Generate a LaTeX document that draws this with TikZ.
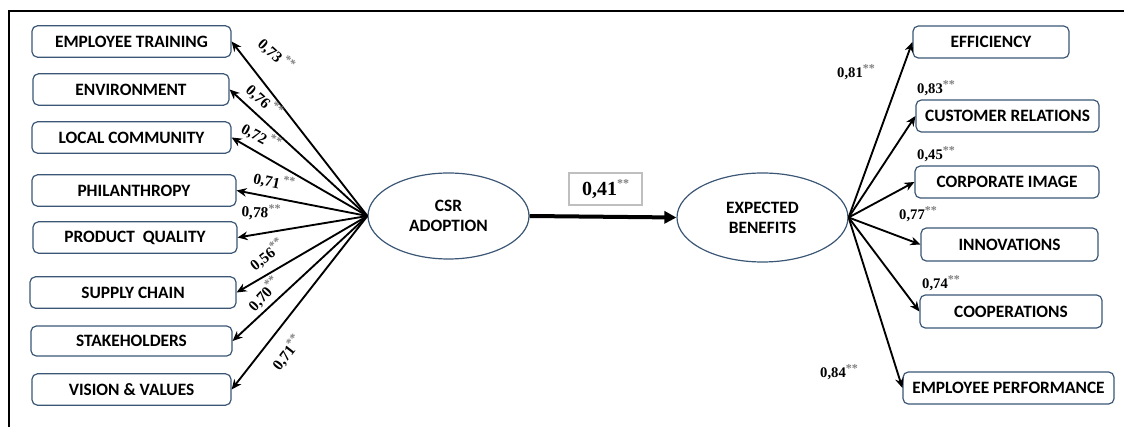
\documentclass[tikz,border=0pt]{standalone}
\usepackage{fontspec}
\setmainfont{Liberation Serif}
\newfontfamily\boxfont{Carlito}
\usetikzlibrary{shapes.geometric,arrows.meta}
\definecolor{edgeblue}{HTML}{3B5775}
\definecolor{lblgray}{HTML}{BFBFBF}
\newcommand\sig{\raisebox{0.38em}{\fontsize{9pt}{9pt}\selectfont\color{gray}**}}
\tikzset{
  box/.style={draw=edgeblue, line width=0.9pt, rounded corners=4pt, inner sep=0pt,
    minimum height=23.5pt, font=\boxfont\bfseries\fontsize{13pt}{15pt}\selectfont},
  lat/.style={draw=edgeblue, line width=0.9pt, ellipse, inner sep=0pt, align=center,
    font=\boxfont\bfseries\fontsize{13pt}{15pt}\selectfont},
  lbl/.style={inner sep=0pt, font=\bfseries\fontsize{11pt}{13pt}\selectfont},
  llbl/.style={inner sep=0pt, font=\bfseries\fontsize{11.5pt}{13pt}\selectfont},
  path/.style={line width=1.4pt, -{Stealth[length=7.5pt,width=6.5pt]}},
  frame/.style={line width=1.5pt}
}
\begin{document}
\begin{tikzpicture}[x=0.75pt,y=-0.75pt]
\useasboundingbox (0,0) rectangle (1124,427);
\draw[frame] (9,427) -- (9,11) -- (1124,11);
% left boxes
\node[box, minimum width=149.25pt] (et) at (131.5,41.5) {EMPLOYEE TRAINING};
\node[box, minimum width=147pt] (env) at (131,89.5) {ENVIRONMENT};
\node[box, minimum width=149.25pt] (lc) at (131.5,137.5) {LOCAL COMMUNITY};
\node[box, minimum width=153pt] (ph) at (134,190.5) {PHILANTHROPY};
\node[box, minimum width=153pt] (pq) at (135,237.5) {PRODUCT\ \ QUALITY};
\node[box, minimum width=154.5pt] (sc) at (133,292.5) {SUPPLY CHAIN};
\node[box, minimum width=150.75pt, minimum height=22.5pt] (st) at (131.5,341) {STAKEHOLDERS};
\node[box, minimum width=149.25pt] (vv) at (131.5,389.5) {VISION \& VALUES};
% latent variables
\node[lat, minimum width=120.75pt, minimum height=64.5pt] (csr) at (448.5,216) {CSR\\ADOPTION};
\node[lat, minimum width=128.25pt, minimum height=66.75pt] (eb) at (762.5,217.5) {EXPECTED\\BENEFITS};
% right boxes
\node[box, minimum width=117pt, minimum height=24pt] (eff) at (991,42) {EFFICIENCY};
\node[box, minimum width=137.25pt, minimum height=24pt] (cr) at (1007.5,116) {CUSTOMER RELATIONS};
\node[box, minimum width=138pt, minimum height=24pt] (ci) at (1007,182) {CORPORATE IMAGE};
\node[box, minimum width=132.75pt, minimum height=24.75pt] (inn) at (1009.5,244.5) {INNOVATIONS};
\node[box, minimum width=136.5pt, minimum height=24.75pt] (coop) at (1011,311.5) {COOPERATIONS};
\node[box, minimum width=158.25pt, minimum height=24pt] (ep) at (1008.5,388) {EMPLOYEE PERFORMANCE};
% left arrows
\foreach \t in {et,env,lc,ph,pq,sc,st,vv}
  \draw[path] (csr.west) -- (\t.east);
% right arrows
\foreach \t in {eff,cr,ci,inn,coop,ep}
  \draw[path] (eb.east) -- (\t.west);
% structural path
\draw[line width=3pt, -{Triangle[length=9pt,width=9pt]}] (csr.east) -- (eb.west);
\node[draw=lblgray, line width=0.8pt, inner sep=0pt, minimum width=54.75pt, minimum height=24pt,
  font=\bfseries\fontsize{15pt}{17pt}\selectfont] (b41) at (605.5,189) {0,41\sig};
% left labels
\node[llbl, rotate=-42] (l1) at (276,55) {0,73\,\sig};
\node[llbl, rotate=-42] (l2) at (264,101) {0,76\,\sig};
\node[llbl, rotate=-28] (l3) at (261,137) {0,72\,\sig};
\node[llbl, rotate=-12] (l4) at (274,182) {0,71\,\sig};
\node[llbl, rotate=-3] (l5) at (261,212) {0,78\sig};
\node[llbl, rotate=38] (l6) at (267,255) {0,56\sig};
\node[llbl, rotate=47] (l7) at (264,294) {0,70\sig};
\node[llbl, rotate=52] (l8) at (287,353) {0,71\sig};
% right labels
\node[lbl] (r1) at (856,72) {0,81\sig};
\node[lbl] (r2) at (936,88) {0,83\sig};
\node[lbl] (r3) at (936,154) {0,45\sig};
\node[lbl] (r4) at (918,214) {0,77\sig};
\node[lbl] (r5) at (941,283) {0,74\sig};
\node[lbl] (r6) at (839,372) {0,84\sig};
\end{tikzpicture}
\end{document}
